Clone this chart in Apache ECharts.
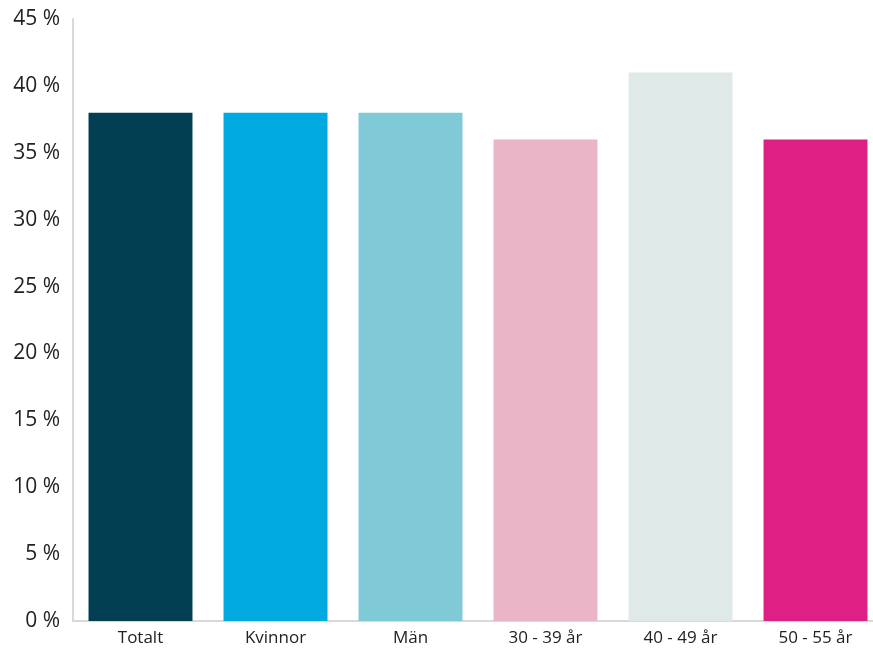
<!DOCTYPE html>
<html>
<head>
<meta charset="utf-8">
<style>
  html, body { margin: 0; padding: 0; background: #fff; overflow: hidden; width: 873px; height: 651px; }
  #chart { width: 883px; height: 651px; }
</style>
<script src="https://cdn.jsdelivr.net/npm/echarts@6/dist/echarts.min.js"></script>
</head>
<body>
<div id="chart"></div>
<script>
// Andel per grupp (%)
const categories = ['Totalt', 'Kvinnor', 'Män', '30 - 39 år', '40 - 49 år', '50 - 55 år'];
const values = [38, 38, 38, 36, 41, 36];
const barColors = ['#023f52', '#00a9e0', '#80c9d6', '#ebb5c8', '#dfe9e8', '#de1f83'];

const chart = echarts.init(document.getElementById('chart'));
chart.setOption({
  animation: false,
  grid: { left: 73, right: 0, top: 19, bottom: 30, containLabel: false },
  xAxis: {
    type: 'category',
    data: categories,
    axisLine: { lineStyle: { color: '#d9d9d9', width: 2 } },
    axisTick: { show: false },
    axisLabel: { color: '#222', fontSize: 17, fontFamily: 'Open Sans', margin: 9 }
  },
  yAxis: {
    type: 'value',
    min: 0,
    max: 45,
    interval: 5,
    axisLine: { show: true, lineStyle: { color: '#d9d9d9', width: 2 } },
    axisTick: { show: false },
    splitLine: { show: false },
    axisLabel: {
      color: '#222', fontSize: 21, fontFamily: 'Open Sans', margin: 13,
      formatter: '{value} %'
    }
  },
  series: [{
    type: 'bar',
    barCategoryGap: '23%',
    data: values.map((v, i) => ({ value: v, itemStyle: { color: barColors[i] } }))
  }]
});
</script>
</body>
</html>
